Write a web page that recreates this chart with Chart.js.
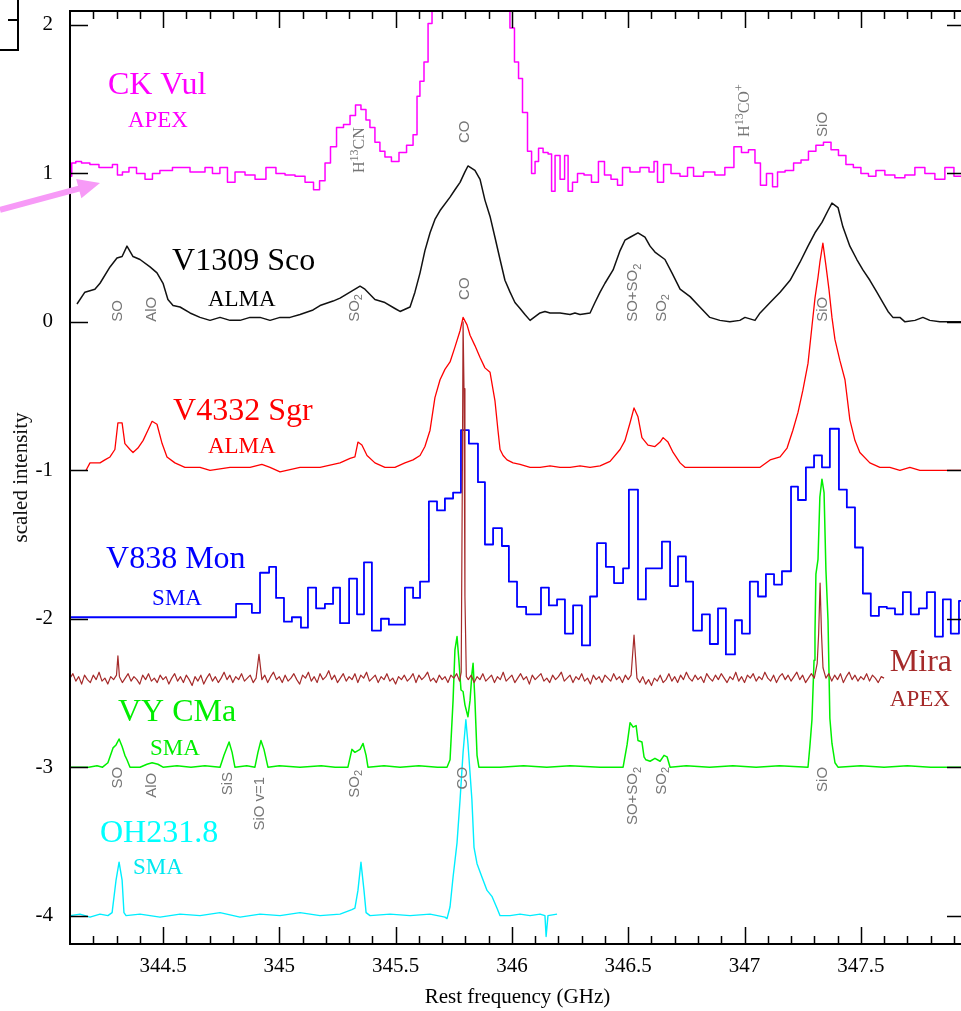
<!DOCTYPE html>
<html><head><meta charset="utf-8">
<script src="https://cdn.jsdelivr.net/npm/chart.js@4.4.1/dist/chart.umd.min.js"></script>
<style>
html,body{margin:0;padding:0;overflow:hidden;background:#fff;width:961px;height:1011px}
#wrap{position:absolute;left:0;top:0;width:980px;height:1011px}
</style>
</head><body><div id="wrap"><canvas id="c" width="980" height="1011"></canvas></div>
<script>
// ---------------- data (GHz, scaled intensity) ----------------
const ckVulFreq = [344.100,344.115,344.135,344.164,344.207,344.242,344.272,344.293,344.315,344.336,
344.371,344.401,344.444,344.465,344.508,344.573,344.659,344.702,344.723,344.766,
344.788,344.831,344.874,344.917,344.968,345.003,345.046,345.089,345.132,345.162,
345.184,345.209,345.231,345.261,345.291,345.317,345.338,345.364,345.381,345.398,
345.424,345.441,345.467,345.497,345.532,345.562,345.588,345.596,345.613,345.631,
345.648,345.665,345.691,345.734,345.777,345.820,345.863,345.906,345.949,345.983,
346.000,346.022,346.035,346.056,346.078,346.091,346.108,346.121,346.147,346.164,
346.177,346.194,346.220,346.233,346.250,346.271,346.293,346.327,346.357,346.387,
346.409,346.443,346.465,346.486,346.529,346.572,346.607,346.615,346.637,346.667,
346.701,346.744,346.766,346.796,346.851,346.894,346.937,346.972,347.002,347.032,
347.058,347.079,347.110,347.131,347.153,347.196,347.226,347.260,347.290,347.324,
347.355,347.389,347.419,347.453,347.483,347.518,347.548,347.582,347.625,347.668,
347.711,347.754,347.797,347.840,347.883,347.918,347.948];
const ckVulInt = [0.98,1.07,1.08,1.07,1.06,1.04,1.04,1.06,0.99,1.01,
1.04,1.00,0.96,1.00,1.02,1.04,1.01,1.04,1.00,1.04,
0.94,1.01,0.99,0.96,1.04,1.00,0.99,0.98,0.94,0.89,
0.95,1.07,1.18,1.31,1.33,1.39,1.46,1.43,1.36,1.31,
1.21,1.15,1.11,1.08,1.14,1.19,1.26,1.52,1.62,1.75,
2.01,2.6,2.9,3.3,3.5,3.5,3.3,3.0,2.6,2.2,
1.98,1.75,1.64,1.41,1.15,1.00,1.08,1.17,1.14,1.13,
0.88,1.12,0.96,1.12,0.88,0.94,1.00,0.99,0.94,1.08,
0.99,0.96,0.92,1.04,1.01,1.04,1.01,1.08,0.94,1.06,
1.00,0.98,1.04,0.98,1.01,0.99,1.04,1.18,1.14,1.16,
1.07,0.92,1.00,0.91,1.01,1.02,1.07,1.09,1.15,1.19,
1.21,1.16,1.12,1.06,1.04,1.00,0.98,1.02,0.99,0.97,
0.99,1.04,1.00,0.96,1.04,0.98,0.98];

const v1309Freq = [344.130,344.164,344.207,344.229,344.272,344.302,344.324,344.345,344.371,344.401,
344.444,344.474,344.500,344.521,344.543,344.573,344.616,344.659,344.702,344.745,
344.788,344.831,344.874,344.917,344.960,345.003,345.046,345.089,345.145,345.175,
345.231,345.261,345.304,345.347,345.368,345.411,345.454,345.497,345.519,345.562,
345.583,345.605,345.626,345.648,345.669,345.691,345.734,345.755,345.777,345.798,
345.811,345.841,345.863,345.884,345.906,345.927,345.949,345.970,345.992,346.013,
346.035,346.056,346.078,346.121,346.142,346.164,346.207,346.250,346.271,346.293,
346.336,346.357,346.379,346.400,346.435,346.465,346.486,346.508,346.542,346.572,
346.594,346.615,346.658,346.688,346.723,346.766,346.808,346.851,346.894,346.937,
346.980,347.002,347.045,347.067,347.110,347.153,347.196,347.238,347.273,347.303,
347.333,347.359,347.376,347.402,347.423,347.453,347.483,347.509,347.539,347.569,
347.595,347.617,347.638,347.668,347.690,347.733,347.767,347.797,347.840,347.948];
const v1309Int = [0.12,0.20,0.22,0.26,0.37,0.43,0.44,0.51,0.44,0.42,
0.37,0.33,0.26,0.15,0.11,0.10,0.06,0.03,0.01,0.03,
0.01,0.01,0.03,0.03,0.01,0.03,0.03,0.05,0.08,0.11,
0.14,0.16,0.20,0.24,0.22,0.15,0.13,0.09,0.07,0.10,
0.20,0.33,0.48,0.60,0.69,0.75,0.84,0.89,0.94,1.01,
1.05,1.02,0.96,0.82,0.71,0.57,0.42,0.28,0.20,0.13,
0.09,0.05,0.01,0.06,0.07,0.06,0.06,0.05,0.06,0.05,
0.06,0.13,0.20,0.26,0.35,0.48,0.55,0.57,0.60,0.57,
0.51,0.47,0.42,0.33,0.22,0.17,0.10,0.03,0.01,0.00,
0.01,0.03,0.01,0.06,0.13,0.20,0.28,0.40,0.51,0.60,
0.67,0.75,0.80,0.77,0.64,0.51,0.42,0.35,0.28,0.20,
0.13,0.07,0.03,0.03,0.00,0.01,0.03,0.01,0.00,0.00];

const v4332Freq = [344.169,344.186,344.229,344.250,344.272,344.293,344.306,344.324,344.336,344.358,
344.371,344.392,344.414,344.435,344.453,344.474,344.496,344.517,344.551,344.594,
344.659,344.702,344.788,344.874,344.925,344.960,345.003,345.089,345.175,345.261,
345.304,345.325,345.338,345.355,345.377,345.411,345.454,345.497,345.540,345.575,
345.605,345.626,345.648,345.669,345.691,345.712,345.734,345.755,345.777,345.790,
345.807,345.820,345.841,345.863,345.884,345.906,345.927,345.940,345.949,345.962,
345.979,346.005,346.035,346.078,346.121,346.164,346.207,346.250,346.293,346.336,
346.379,346.422,346.465,346.486,346.508,346.525,346.542,346.559,346.585,346.615,
346.637,346.650,346.671,346.693,346.723,346.744,346.808,346.894,346.980,347.067,
347.110,347.153,347.183,347.208,347.230,347.251,347.273,347.290,347.303,347.316,
347.324,347.337,347.350,347.363,347.376,347.389,347.410,347.432,347.453,347.475,
347.496,347.539,347.582,347.625,347.668,347.711,347.754,347.840,347.948];
const v4332Int = [-1.00,-0.95,-0.95,-0.93,-0.91,-0.86,-0.68,-0.68,-0.82,-0.86,
-0.88,-0.85,-0.80,-0.73,-0.67,-0.69,-0.82,-0.91,-0.95,-0.98,
-0.98,-1.00,-0.98,-0.98,-0.96,-0.98,-1.01,-0.98,-0.98,-0.95,
-0.92,-0.91,-0.81,-0.83,-0.90,-0.95,-0.98,-0.98,-0.95,-0.93,
-0.90,-0.84,-0.73,-0.51,-0.39,-0.32,-0.27,-0.17,-0.06,0.03,
-0.02,-0.09,-0.16,-0.24,-0.31,-0.34,-0.53,-0.73,-0.86,-0.90,
-0.93,-0.95,-0.96,-0.98,-0.98,-0.97,-0.98,-0.98,-0.97,-0.98,
-0.97,-0.94,-0.86,-0.80,-0.68,-0.58,-0.64,-0.78,-0.83,-0.84,
-0.81,-0.78,-0.81,-0.88,-0.95,-0.98,-0.98,-0.98,-0.98,-0.98,
-0.93,-0.91,-0.85,-0.73,-0.61,-0.46,-0.28,-0.03,0.16,0.30,
0.40,0.53,0.38,0.22,0.03,-0.12,-0.26,-0.39,-0.66,-0.80,
-0.88,-0.95,-0.98,-0.98,-1.00,-0.98,-1.00,-1.00,-1.00];

const v838Freq = [344.100,344.814,344.882,344.917,344.956,344.986,345.020,345.054,345.093,345.123,
345.158,345.196,345.231,345.261,345.300,345.334,345.364,345.398,345.437,345.471,
345.506,345.540,345.575,345.605,345.643,345.678,345.712,345.747,345.781,345.815,
345.854,345.884,345.919,345.957,345.987,346.022,346.061,346.125,346.159,346.194,
346.228,346.263,346.301,346.336,346.366,346.404,346.439,346.478,346.503,346.542,
346.576,346.645,346.680,346.714,346.748,346.779,346.817,346.851,346.886,346.920,
346.959,346.989,347.023,347.058,347.092,347.127,347.161,347.200,347.230,347.264,
347.299,347.333,347.367,347.406,347.440,347.475,347.509,347.543,347.578,347.612,
347.647,347.681,347.715,347.750,347.784,347.819,347.853,347.887,347.922,347.948];
const v838Int = [-1.99,-1.90,-1.96,-1.69,-1.65,-1.86,-2.02,-1.99,-2.06,-1.79,
-1.93,-1.90,-1.79,-2.03,-1.73,-1.97,-1.62,-2.08,-2.00,-2.04,
-2.04,-1.79,-1.86,-1.75,-1.21,-1.27,-1.19,-1.15,-0.73,-0.82,
-1.08,-1.50,-1.39,-1.51,-1.75,-1.92,-1.97,-1.79,-1.91,-1.87,
-2.10,-1.91,-2.18,-1.85,-1.49,-1.65,-1.76,-1.66,-1.13,-1.87,
-1.66,-1.48,-1.78,-1.58,-1.75,-2.08,-1.97,-2.17,-1.93,-2.24,
-2.01,-2.10,-1.75,-1.85,-1.70,-1.77,-1.68,-1.11,-1.20,-0.98,
-0.90,-0.98,-0.72,-1.13,-1.25,-1.52,-1.83,-1.98,-1.92,-1.93,
-1.97,-1.82,-1.97,-1.93,-1.82,-2.12,-1.87,-2.10,-1.88,-1.88];

const miraFreq = [
344.1,344.1125,344.125,344.1375,344.15,344.1625,344.175,344.1875,
344.2,344.2125,344.225,344.2375,344.25,344.2625,344.275,344.2875,
344.3,344.306,344.3125,344.325,344.3375,344.35,344.3625,344.375,344.3875,
344.4,344.4125,344.425,344.4375,344.45,344.4625,344.475,344.4875,
344.5,344.5125,344.525,344.5375,344.55,344.5625,344.575,344.5875,
344.6,344.6125,344.625,344.6375,344.65,344.6625,344.675,344.6875,
344.7,344.7125,344.725,344.7375,344.75,344.7625,344.775,344.7875,
344.8,344.8125,344.825,344.8375,344.85,344.8625,344.875,344.8875,
344.9,344.9125,344.925,344.9375,344.95,344.9625,344.975,344.9875,
345.0,345.0125,345.025,345.0375,345.05,345.0625,345.075,345.0875,
345.1,345.1125,345.125,345.1375,345.15,345.1625,345.175,345.1875,
345.2,345.2125,345.225,345.2375,345.25,345.2625,345.275,345.2875,
345.3,345.3125,345.325,345.3375,345.35,345.3625,345.375,345.3875,
345.4,345.4125,345.425,345.4375,345.45,345.4625,345.475,345.4875,
345.5,345.5125,345.525,345.5375,345.55,345.5625,345.575,345.5875,
345.6,345.6125,345.625,345.6375,345.65,345.6625,345.675,345.6875,
345.7,345.7125,345.725,345.7375,345.75,345.7625,345.775,345.782,345.787,345.79,345.794,345.798,345.804,
345.8125,345.825,345.8375,345.85,345.8625,345.875,345.8875,
345.9,345.9125,345.925,345.9375,345.95,345.9625,345.975,345.9875,
346.0,346.0125,346.025,346.0375,346.05,346.0625,346.075,346.0875,
346.1,346.1125,346.125,346.1375,346.15,346.1625,346.175,346.1875,
346.2,346.2125,346.225,346.2375,346.25,346.2625,346.275,346.2875,
346.3,346.3125,346.325,346.3375,346.35,346.3625,346.375,346.3875,
346.4,346.4125,346.425,346.4375,346.45,346.4625,346.475,346.4875,
346.5,346.5125,346.525,346.5375,346.55,346.5625,346.575,346.5875,
346.6,346.6125,346.625,346.6375,346.65,346.6625,346.675,346.6875,
346.7,346.7125,346.725,346.7375,346.75,346.7625,346.775,346.7875,
346.8,346.8125,346.825,346.8375,346.85,346.8625,346.875,346.8875,
346.9,346.9125,346.925,346.9375,346.95,346.9625,346.975,346.9875,
347.0,347.0125,347.025,347.0375,347.05,347.0625,347.075,347.0875,
347.1,347.1125,347.125,347.1375,347.15,347.1625,347.175,347.1875,
347.2,347.2125,347.225,347.2375,347.25,347.2625,347.275,347.2875,
347.3,347.3125,347.3188,347.325,347.331,347.3375,347.35,347.3625,347.375,347.3875,
347.4,347.4125,347.425,347.4375,347.45,347.4625,347.475,347.4875,
347.5,347.5125,347.525,347.5375,347.55,347.5625,347.575,347.5875,
347.6];
const miraInt = [
-2.40,-2.37,-2.42,-2.39,-2.44,-2.38,-2.41,-2.43,
-2.38,-2.41,-2.36,-2.42,-2.40,-2.44,-2.39,-2.41,
-2.38,-2.25,-2.39,-2.43,-2.40,-2.37,-2.42,-2.39,-2.41,
-2.44,-2.38,-2.41,-2.37,-2.42,-2.40,-2.43,-2.38,
-2.41,-2.39,-2.44,-2.40,-2.37,-2.42,-2.39,-2.43,
-2.38,-2.41,-2.45,-2.39,-2.42,-2.38,-2.44,-2.40,
-2.37,-2.42,-2.39,-2.43,-2.40,-2.36,-2.41,-2.38,
-2.43,-2.39,-2.41,-2.37,-2.42,-2.40,-2.38,-2.43,
-2.40,-2.24,-2.41,-2.38,-2.43,-2.39,-2.36,-2.41,
-2.39,-2.43,-2.38,-2.42,-2.40,-2.37,-2.41,-2.44,
-2.38,-2.40,-2.36,-2.42,-2.39,-2.43,-2.37,-2.41,
-2.39,-2.35,-2.41,-2.38,-2.43,-2.40,-2.37,-2.42,
-2.39,-2.41,-2.37,-2.43,-2.38,-2.40,-2.36,-2.42,
-2.40,-2.38,-2.43,-2.39,-2.41,-2.37,-2.42,-2.40,
-2.44,-2.39,-2.41,-2.38,-2.42,-2.40,-2.37,-2.43,
-2.38,-2.41,-2.39,-2.36,-2.42,-2.40,-2.43,-2.38,
-2.41,-2.39,-2.43,-2.38,-2.40,-2.37,-2.42,-2.36,-1.00,0.00,-0.45,-1.85,-2.39,
-2.41,-2.38,-2.43,-2.39,-2.41,-2.37,-2.42,
-2.40,-2.38,-2.43,-2.39,-2.41,-2.36,-2.42,-2.40,
-2.38,-2.43,-2.40,-2.37,-2.41,-2.39,-2.44,-2.38,
-2.41,-2.39,-2.37,-2.42,-2.40,-2.43,-2.38,-2.41,
-2.39,-2.36,-2.42,-2.40,-2.38,-2.43,-2.39,-2.41,
-2.37,-2.42,-2.40,-2.44,-2.38,-2.41,-2.39,-2.43,
-2.38,-2.40,-2.42,-2.37,-2.41,-2.39,-2.43,-2.38,
-2.41,-2.38,-2.11,-2.40,-2.43,-2.39,-2.44,-2.41,
-2.45,-2.40,-2.42,-2.38,-2.43,-2.41,-2.37,-2.42,
-2.39,-2.43,-2.38,-2.41,-2.36,-2.40,-2.42,-2.38,
-2.41,-2.39,-2.43,-2.37,-2.40,-2.42,-2.38,-2.41,
-2.37,-2.40,-2.43,-2.39,-2.41,-2.36,-2.42,-2.39,
-2.43,-2.38,-2.40,-2.37,-2.42,-2.39,-2.41,-2.36,
-2.40,-2.42,-2.38,-2.43,-2.39,-2.37,-2.41,-2.38,
-2.42,-2.39,-2.36,-2.41,-2.38,-2.43,-2.40,-2.37,
-2.40,-2.30,-2.10,-1.76,-2.10,-2.33,-2.40,-2.37,-2.42,-2.38,
-2.41,-2.37,-2.43,-2.39,-2.36,-2.41,-2.38,-2.42,
-2.39,-2.41,-2.37,-2.42,-2.38,-2.40,-2.43,-2.39,
-2.40];

const vyCMaFreq = [344.100,344.180,344.216,344.240,344.263,344.285,344.298,344.311,344.324,344.336,
344.345,344.358,344.401,344.431,344.453,344.478,344.500,344.560,344.620,344.680,
344.745,344.762,344.784,344.797,344.809,344.860,344.895,344.908,344.921,344.934,
344.951,345.000,345.089,345.180,345.240,345.295,345.312,345.325,345.347,345.360,
345.373,345.381,345.450,345.519,345.600,345.680,345.721,345.734,345.747,345.755,
345.764,345.772,345.781,345.790,345.798,345.811,345.820,345.828,345.833,345.841,
345.850,345.858,345.949,346.050,346.150,346.250,346.379,346.478,346.495,346.508,
346.521,346.534,346.542,346.559,346.568,346.576,346.594,346.615,346.637,346.654,
346.667,346.680,346.750,346.850,346.950,347.050,347.150,347.273,347.281,347.290,
347.299,347.303,347.307,347.316,347.324,347.333,347.342,347.350,347.359,347.367,
347.376,347.389,347.402,347.500,347.600,347.700,347.800,347.948];
const vyCMaInt = [-3.00,-3.00,-2.99,-3.00,-2.97,-2.87,-2.85,-2.81,-2.86,-2.92,
-2.95,-3.00,-3.00,-2.98,-2.97,-2.98,-3.00,-2.99,-3.00,-2.99,
-3.00,-2.92,-2.83,-2.90,-3.00,-2.99,-3.00,-2.90,-2.82,-2.88,
-3.00,-2.99,-3.00,-2.99,-3.00,-3.00,-2.88,-2.90,-2.88,-2.84,
-2.92,-3.00,-2.99,-3.00,-2.99,-3.00,-3.00,-2.95,-2.55,-2.21,
-2.12,-2.28,-2.48,-2.49,-2.58,-2.66,-2.55,-2.37,-2.30,-2.55,
-2.92,-3.00,-3.00,-2.99,-3.00,-2.99,-3.00,-3.00,-2.85,-2.70,
-2.73,-2.72,-2.82,-2.83,-2.93,-2.95,-2.96,-2.94,-2.96,-2.92,
-2.93,-3.00,-2.99,-3.00,-2.99,-3.00,-2.99,-3.00,-2.86,-2.68,
-2.28,-2.10,-1.70,-1.60,-1.18,-1.06,-1.15,-1.67,-2.01,-2.67,
-2.84,-2.97,-3.00,-2.99,-3.00,-2.99,-3.00,-3.00];

const oh231Freq = [344.100,344.143,344.186,344.229,344.263,344.281,344.298,344.311,344.324,344.332,
344.341,344.401,344.487,344.573,344.659,344.745,344.831,344.917,345.003,345.089,
345.175,345.261,345.312,345.325,345.338,345.351,345.364,345.373,345.390,345.476,
345.562,345.648,345.712,345.721,345.734,345.747,345.764,345.777,345.790,345.802,
345.811,345.828,345.837,345.850,345.871,345.893,345.914,345.936,345.949,345.992,
346.035,346.078,346.121,346.142,346.147,346.155,346.194];
const oh231Int = [-4.00,-3.99,-4.01,-3.99,-4.00,-3.98,-3.76,-3.64,-3.76,-3.98,
-4.00,-3.99,-4.01,-3.99,-4.00,-3.98,-4.01,-3.99,-4.00,-3.98,
-4.00,-3.99,-3.96,-3.95,-3.83,-3.64,-3.83,-3.98,-4.00,-3.99,
-4.00,-3.99,-4.01,-4.02,-3.94,-3.74,-3.51,-3.22,-2.90,-2.68,
-2.84,-3.22,-3.54,-3.65,-3.74,-3.83,-3.87,-3.95,-4.00,-4.00,
-3.99,-4.00,-3.99,-4.00,-4.14,-4.00,-3.99];

// axis tick values
const xTickValues = [344.5,345,345.5,346,346.5,347,347.5];
const yTickValues = [-4,-3,-2,-1,0,1,2];

// ---------------- annotations (anchored in data coordinates) ----------------
const SERIF = "'Liberation Serif','Times New Roman',serif";
const SANS = "'Liberation Sans',Arial,sans-serif";
const nameLabels = [
  {text:'CK Vul',    f:344.263, v:1.589,  size:32, color:'#ff00ff'},
  {text:'APEX',      f:344.349, v:1.353,  size:23, color:'#ff00ff'},
  {text:'V1309 Sco', f:344.539, v:0.403,  size:32, color:'#000000'},
  {text:'ALMA',      f:344.693, v:0.148,  size:23, color:'#000000'},
  {text:'V4332 Sgr', f:344.543, v:-0.607, size:32, color:'#ff0000'},
  {text:'ALMA',      f:344.693, v:-0.843, size:23, color:'#ff0000'},
  {text:'V838 Mon',  f:344.255, v:-1.604, size:32, color:'#0000ff'},
  {text:'SMA',       f:344.453, v:-1.867, size:23, color:'#0000ff'},
  {text:'Mira',      f:347.625, v:-2.298, size:32, color:'#a52a2a'},
  {text:'APEX',      f:347.625, v:-2.547, size:23, color:'#a52a2a'},
  {text:'VY CMa',    f:344.306, v:-2.635, size:32, color:'#00ee00'},
  {text:'SMA',       f:344.444, v:-2.877, size:23, color:'#00ee00'},
  {text:'OH231.8',   f:344.229, v:-3.449, size:32, color:'#00ffff'},
  {text:'SMA',       f:344.371, v:-3.678, size:23, color:'#00e8f0'}
];
// segs: [text, mode] mode 0 normal, 1 superscript, -1 subscript
const lineIds = [
  {segs:[['SO',0]], f:344.306, v:0.0, anchor:'start'},
  {segs:[['AlO',0]], f:344.453, v:0.0, anchor:'start'},
  {segs:[['SO',0],['2',-1]], f:345.325, v:0.0, anchor:'start'},
  {segs:[['CO',0]], f:345.798, v:0.148, anchor:'start'},
  {segs:[['SO+SO',0],['2',-1]], f:346.521, v:0.0, anchor:'start'},
  {segs:[['SO',0],['2',-1]], f:346.645, v:0.0, anchor:'start'},
  {segs:[['SiO',0]], f:347.337, v:0.0, anchor:'start'},
  {segs:[['H',0],['13',1],['CN',0]], f:345.347, v:1.003, anchor:'start', serif:true},
  {segs:[['CO',0]], f:345.798, v:1.205, anchor:'start'},
  {segs:[['H',0],['13',1],['CO',0],['+',1]], f:347.002, v:1.246, anchor:'start', serif:true},
  {segs:[['SiO',0]], f:347.337, v:1.246, anchor:'start'},
  {segs:[['SO',0]], f:344.306, v:-2.998, anchor:'end'},
  {segs:[['AlO',0]], f:344.453, v:-3.038, anchor:'end'},
  {segs:[['SiS',0]], f:344.780, v:-3.032, anchor:'end'},
  {segs:[['SiO v=1',0]], f:344.917, v:-3.065, anchor:'end'},
  {segs:[['SO',0],['2',-1]], f:345.325, v:-3.018, anchor:'end'},
  {segs:[['CO',0]], f:345.790, v:-2.998, anchor:'end'},
  {segs:[['SO+SO',0],['2',-1]], f:346.521, v:-2.998, anchor:'end'},
  {segs:[['SO',0],['2',-1]], f:346.645, v:-2.998, anchor:'end'},
  {segs:[['SiO',0]], f:347.337, v:-2.998, anchor:'end'}
];

function pts(f, v){ return f.map((x,i)=>({x:x, y:v[i]})); }

function drawRich(ctx, segs, px, py, anchor, family, size){
  ctx.save();
  ctx.translate(px, py);
  ctx.rotate(-Math.PI/2);
  ctx.textBaseline = 'middle';
  ctx.textAlign = 'left';
  const small = Math.round(size*0.72);
  const widths = segs.map(([t,m]) => { ctx.font = (m ? small : size) + 'px ' + family; return ctx.measureText(t).width; });
  const total = widths.reduce((a,b)=>a+b,0);
  let x = anchor === 'start' ? 0 : -total;
  segs.forEach(([t,m],i) => {
    ctx.font = (m ? small : size) + 'px ' + family;
    const dy = m === 1 ? -size*0.32 : (m === -1 ? size*0.3 : 0);
    ctx.fillText(t, x, dy);
    x += widths[i];
  });
  ctx.restore();
}

const framePlugin = {
  id: 'frame',
  beforeDraw(chart){
    const ctx = chart.ctx;
    ctx.save(); ctx.fillStyle = '#fff'; ctx.fillRect(0,0,chart.width,chart.height); ctx.restore();
  },
  afterDraw(chart){
    const {ctx, chartArea:a, scales:{x, y}} = chart;
    ctx.save();
    ctx.strokeStyle = '#000';
    ctx.lineWidth = 2;
    ctx.strokeRect(a.left, a.top, a.right - a.left, a.bottom - a.top);
    ctx.lineWidth = 1.5;
    ctx.beginPath();
    for (let i = 3442; i <= 3479; i++) {
      const px = Math.round(x.getPixelForValue(i/10)) + 0.5;
      const len = (i % 5 === 0) ? 17 : 8;
      ctx.moveTo(px, a.bottom); ctx.lineTo(px, a.bottom - len);
      ctx.moveTo(px, a.top); ctx.lineTo(px, a.top + len);
    }
    for (const v of yTickValues) {
      const py = Math.round(y.getPixelForValue(v)) + 0.5;
      ctx.moveTo(a.left, py); ctx.lineTo(a.left + 18, py);
      ctx.moveTo(a.right, py); ctx.lineTo(a.right - 18, py);
    }
    ctx.stroke();

    // fragment of neighbouring panel at top-left
    ctx.lineWidth = 2;
    ctx.beginPath();
    ctx.moveTo(18, 0); ctx.lineTo(18, 50); ctx.lineTo(0, 50);
    ctx.moveTo(8, 20); ctx.lineTo(18, 20);
    ctx.stroke();

    // pink arrow pointing at CK Vul baseline
    const tipX = x.getPixelForValue(344.229), tipY = y.getPixelForValue(0.936);
    const tailX = 0, tailY = tipY + 27;
    const dx = tipX - tailX, dy = tipY - tailY, L = Math.hypot(dx, dy);
    const ux = dx/L, uy = dy/L, nx = -uy, ny = ux;
    const hl = 22, hw = 10;
    const bx = tipX - ux*hl, by = tipY - uy*hl;
    ctx.strokeStyle = '#f79af7'; ctx.fillStyle = '#f79af7';
    ctx.lineWidth = 6; ctx.lineCap = 'butt';
    ctx.beginPath(); ctx.moveTo(tailX, tailY); ctx.lineTo(bx + ux*2, by + uy*2); ctx.stroke();
    ctx.beginPath(); ctx.moveTo(tipX, tipY); ctx.lineTo(bx + nx*hw, by + ny*hw); ctx.lineTo(bx - nx*hw, by - ny*hw); ctx.closePath(); ctx.fill();

    ctx.textAlign = 'left'; ctx.textBaseline = 'middle';
    for (const l of nameLabels) {
      ctx.font = l.size + 'px ' + SERIF;
      ctx.fillStyle = l.color;
      ctx.fillText(l.text, x.getPixelForValue(l.f), y.getPixelForValue(l.v));
    }
    ctx.fillStyle = '#767676';
    for (const l of lineIds) {
      drawRich(ctx, l.segs, x.getPixelForValue(l.f), y.getPixelForValue(l.v), l.anchor,
               l.serif ? SERIF : SANS, l.serif ? 16 : 15);
    }
    ctx.restore();
  }
};

const tickFont = {family: SERIF, size: 21};
new Chart(document.getElementById('c'), {
  type: 'line',
  data: {
    datasets: [
      {label:'Mira', data: pts(miraFreq, miraInt), borderColor:'#a52a2a', borderWidth:1.2},
      {label:'VY CMa', data: pts(vyCMaFreq, vyCMaInt), borderColor:'#00f000', borderWidth:1.5},
      {label:'OH231.8', data: pts(oh231Freq, oh231Int), borderColor:'#00eeff', borderWidth:1.4},
      {label:'CK Vul', data: pts(ckVulFreq, ckVulInt), borderColor:'#ff00ff', borderWidth:1.5, stepped:'middle'},
      {label:'V1309 Sco', data: pts(v1309Freq, v1309Int), borderColor:'#111111', borderWidth:1.5},
      {label:'V4332 Sgr', data: pts(v4332Freq, v4332Int), borderColor:'#ff0000', borderWidth:1.3},
      {label:'V838 Mon', data: pts(v838Freq, v838Int), borderColor:'#0000ff', borderWidth:1.8, stepped:true}
    ]
  },
  options: {
    responsive: false,
    animation: false,
    devicePixelRatio: 1,
    layout: {padding: {left:0, top:11, right:15, bottom:0}},
    plugins: {legend: {display:false}, tooltip: {enabled:false}},
    elements: {point: {radius:0, hoverRadius:0}, line: {tension:0, fill:false, borderJoinStyle:'round'}},
    scales: {
      x: {
        type: 'linear', min: 344.1, max: 347.948,
        afterFit(s){ s.height = 67; s.paddingLeft = 0; s.paddingRight = 0; s.paddingTop = 0; s.paddingBottom = 0; },
        grid: {display:false, drawTicks:false}, border: {display:false},
        afterBuildTicks(s){ s.ticks = xTickValues.map(v => ({value:v})); },
        ticks: {padding: 10, font: tickFont, color:'#000', maxRotation:0, autoSkip:false, callback: v => String(v)},
        title: {display:true, text:'Rest frequency (GHz)', font:{family:SERIF, size:21}, color:'#000', padding:{top:0, bottom:1}}
      },
      y: {
        type: 'linear', min: -4.191, max: 2.094,
        afterFit(s){ s.width = 70; s.paddingTop = 0; s.paddingBottom = 0; s.paddingLeft = 0; s.paddingRight = 0; },
        grid: {display:false, drawTicks:false}, border: {display:false},
        afterBuildTicks(s){ s.ticks = yTickValues.map(v => ({value:v})); },
        ticks: {padding: 17, font: tickFont, color:'#000', autoSkip:false, callback: v => String(v)},
        title: {display:true, text:'scaled intensity', font:{family:SERIF, size:21}, color:'#111', padding:{top:9, bottom:0}}
      }
    }
  },
  plugins: [framePlugin]
});
</script>
</body></html>
